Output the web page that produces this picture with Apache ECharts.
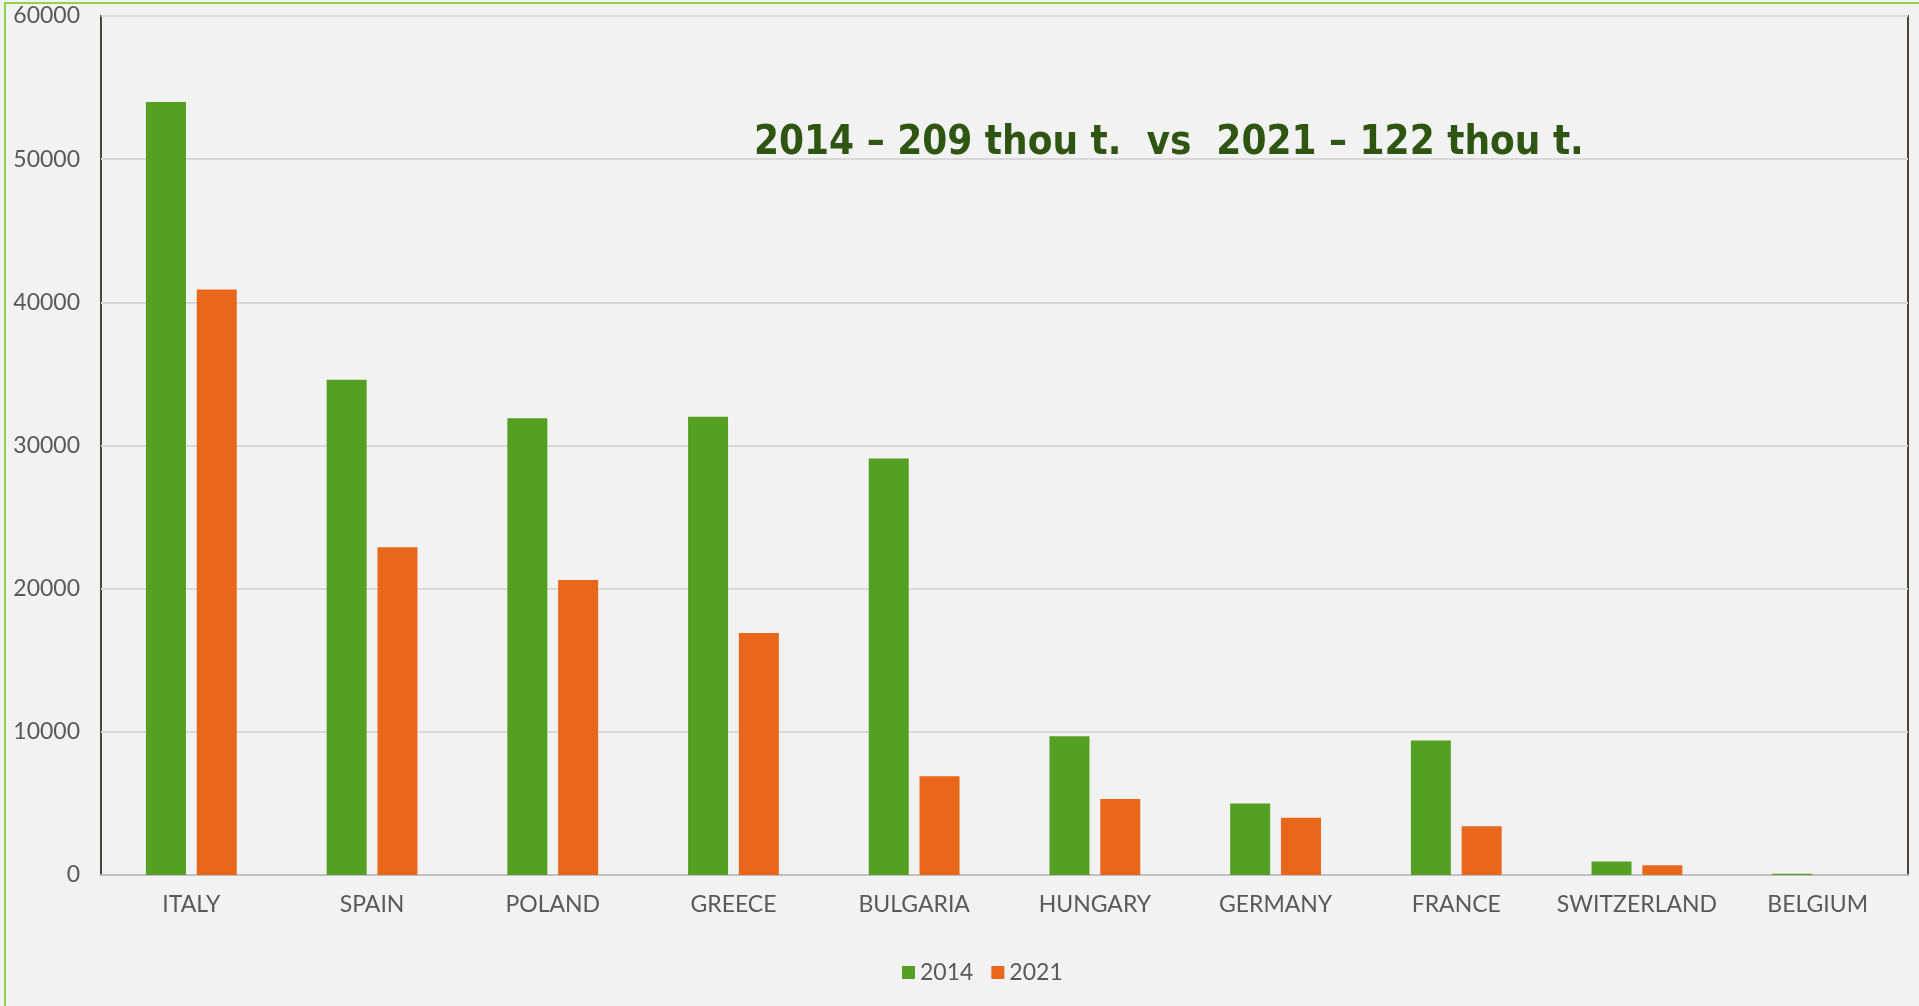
<!DOCTYPE html>
<html>
<head>
<meta charset="utf-8">
<script src="https://cdn.jsdelivr.net/npm/echarts@6/dist/echarts.min.js"></script>
<style>
  html, body {
    margin: 0;
    padding: 0;
    background: #f2f2f2;
    overflow: hidden;
  }
  .frame {
    position: absolute;
    left: 4px;
    top: 2px;
    width: 3000px;
    height: 3000px;
    border: 2px solid #92d050;
    box-sizing: border-box;
  }
  #chart {
    position: absolute;
    left: 0;
    top: 0;
    width: 1919px;
    height: 1006px;
  }
</style>
</head>
<body>
<div class="frame"></div>
<div id="chart"></div>
<script>
// countries, sorted as in the source chart
const countries = ['ITALY', 'SPAIN', 'POLAND', 'GREECE', 'BULGARIA', 'HUNGARY', 'GERMANY', 'FRANCE', 'SWITZERLAND', 'BELGIUM']
// tonnes
const values2014 = [54000, 34600, 31900, 32000, 29100, 9700, 5000, 9400, 950, 80]
const values2021 = [40900, 22900, 20600, 16900, 6900, 5300, 4000, 3400, 680, 0]
const seriesNames = ['2014', '2021']
const titleText = '2014 \u2013 209 thou t.  vs  2021 \u2013 122 thou t.'

const chart = echarts.init(document.getElementById('chart'))

const labelFont = 'Lato, "Open Sans", sans-serif'

const option = {
  backgroundColor: 'transparent',
  animation: false,
  title: {
    text: titleText,
    left: 749,
    top: 119,
    textStyle: {
      fontFamily: '"DejaVu Sans Condensed", sans-serif',
      fontWeight: 'bold',
      fontSize: 40,
      color: '#2e5511'
    }
  },
  legend: {
    data: seriesNames,
    bottom: 22,
    left: 902,
    padding: 0,
    itemWidth: 13,
    itemHeight: 13,
    itemGap: 18,
    icon: 'rect',
    textStyle: {
      fontFamily: labelFont,
      fontSize: 23,
      color: '#595959'
    }
  },
  grid: {
    left: 101,
    top: 16,
    right: 11,
    bottom: 131,
    show: true,
    borderColor: '#4a4633',
    borderWidth: 2,
    backgroundColor: 'transparent'
  },
  xAxis: {
    type: 'category',
    data: countries,
    axisLine: { lineStyle: { color: '#bfbfbf', width: 2 } },
    axisTick: { show: false },
    axisLabel: {
      interval: 0,
      margin: 18,
      fontFamily: labelFont,
      fontSize: 23,
      color: '#595959'
    }
  },
  yAxis: {
    type: 'value',
    min: 0,
    max: 60000,
    interval: 10000,
    axisLine: { show: false },
    axisTick: { show: false },
    axisLabel: {
      margin: 21,
      fontFamily: labelFont,
      fontSize: 23,
      color: '#595959',
      formatter: (v) => String(v)
    },
    splitLine: { lineStyle: { color: '#d9d9d9', width: 2 } }
  },
  series: [
    {
      name: seriesNames[0],
      type: 'bar',
      data: values2014,
      barWidth: 40,
      barGap: '27%',
      itemStyle: { color: '#55a022' }
    },
    {
      name: seriesNames[1],
      type: 'bar',
      data: values2021,
      barWidth: 40,
      itemStyle: { color: '#e8671a' }
    }
  ]
}

chart.setOption(option)
</script>
</body>
</html>
